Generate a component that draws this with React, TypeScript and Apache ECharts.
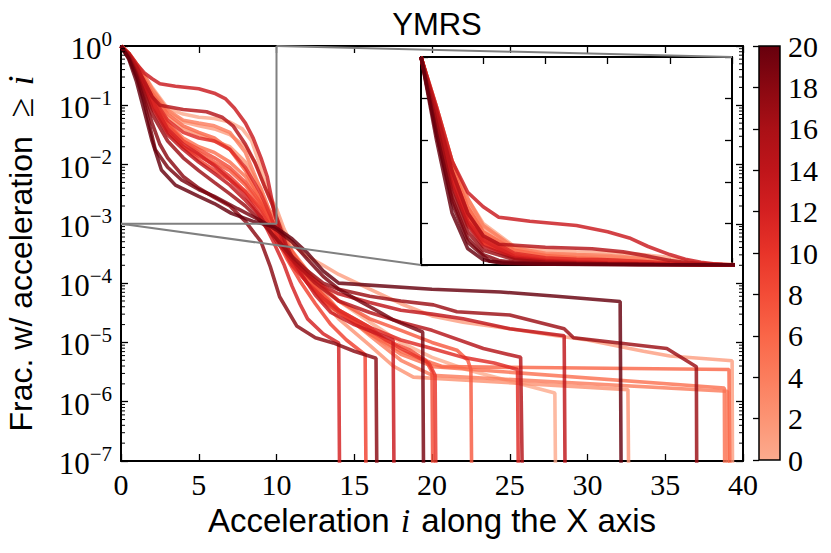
import { useEffect, useRef } from "react";
import * as echarts from "echarts";

// ---- data: each curve is [acceleration i, fraction >= i] ----
const curveA: [number, number][] = [[0,1],[0.5,7.1e-1],[1,4.2e-1],[1.5,2.1e-1],[2,1.2e-1],[3,4.0e-2],[4,2.2e-2],[5,1.5e-2],[6,9.5e-3],[7,5.6e-3],[8,3.0e-3],[9,1.3e-3],[9.8,5.0e-4],[10.5,2.0e-4],[11,8.9e-5],[11.5,4.5e-5],[12,2.5e-5],[13,1.4e-5],[14,9.8e-6],[14.1,1e-9]];
const curveB: [number, number][] = [[0,1],[0.5,7.2e-1],[1,4.2e-1],[1.5,2.2e-1],[2,1.1e-1],[3,3.8e-2],[4,2.0e-2],[5,1.2e-2],[6,8.0e-3],[7,5.5e-3],[8,3.5e-3],[9,1.8e-3],[10,5.6e-4],[10.7,2.5e-4],[11.5,1.1e-4],[12.5,4.5e-5],[13.5,2.0e-5],[14.5,1.1e-5],[15.7,6.2e-6],[15.8,1e-9]];
const curveC: [number, number][] = [[0,1],[0.5,6.3e-1],[1,3.2e-1],[1.5,1.3e-1],[2,5.0e-2],[2.5,2.2e-2],[3,1.3e-2],[4,6.3e-3],[5,4.0e-3],[6,2.8e-3],[7,2.0e-3],[8,1.1e-3],[9,5.0e-4],[9.6,1.9e-4],[10.2,5.9e-5],[11.3,1.9e-5],[12.5,1.2e-5],[13.65,9.8e-6],[15,7.1e-6],[16.4,5.4e-6],[16.5,1e-9]];
const curveD: [number, number][] = [[0,1],[0.5,7.6e-1],[1,5.0e-1],[1.5,3.5e-1],[2,2.8e-1],[2.5,2.3e-1],[3.5,2.1e-1],[5,1.9e-1],[6,1.6e-1],[6.7,1.3e-1],[7.3,8.9e-2],[8,5.0e-2],[8.5,2.8e-2],[9,1.3e-2],[9.4,6.3e-3],[9.9,1.4e-3],[10.4,5.0e-4],[11,2.5e-4],[11.7,1.3e-4],[12.5,6.3e-5],[13.5,3.2e-5],[15,2.0e-5],[16.5,1.4e-5],[17.5,1.1e-5],[17.6,1e-9]];
const curveE: [number, number][] = [[0,1],[0.5,6.3e-1],[1,3.0e-1],[1.5,1.1e-1],[2.2,1.8e-2],[3,9.0e-3],[3.9,5.5e-3],[5,3.8e-3],[6,2.9e-3],[7.5,1.8e-3],[8.8,1.2e-3],[10,7.9e-4],[11,5.0e-4],[12,2.5e-4],[13,1.3e-4],[14,7.9e-5],[15,5.6e-5],[16.4,3.5e-5],[17.5,2.4e-5],[19.4,1.5e-5],[19.5,1e-9]];
const curveF: [number, number][] = [[0,1],[0.5,7.1e-1],[1,4.0e-1],[1.5,2.1e-1],[2,1.1e-1],[3,4.5e-2],[4,2.5e-2],[5,1.8e-2],[6,1.3e-2],[7,8.9e-3],[8,5.0e-3],[9,2.2e-3],[10,7.9e-4],[11,2.8e-4],[12,1.3e-4],[13,6.3e-5],[14,3.5e-5],[16,1.8e-5],[17,1.1e-5],[18.6,7.4e-6],[19.6,5.0e-6],[20,3.2e-6],[20.1,1e-9]];
const curveG: [number, number][] = [[0,1],[0.5,7.1e-1],[1,4.0e-1],[1.5,2.0e-1],[2,1.0e-1],[3,3.5e-2],[4,2.0e-2],[5,1.4e-2],[6,1.0e-2],[7,6.3e-3],[8,3.5e-3],[9,1.6e-3],[10,6.3e-4],[11,2.2e-4],[12,1.0e-4],[13,5.0e-5],[14,3.2e-5],[16,1.6e-5],[18,7.9e-6],[19.8,4.5e-6],[20.2,2.8e-6],[20.3,1e-9]];
const curveH: [number, number][] = [[0,1],[0.5,7.2e-1],[1,4.4e-1],[1.5,2.4e-1],[2,1.3e-1],[3,5.0e-2],[4,2.5e-2],[5,1.6e-2],[6,1.1e-2],[7,7.9e-3],[8,4.5e-3],[9,2.0e-3],[10,8.9e-4],[10.7,4.5e-4],[11.5,2.2e-4],[12.5,1.1e-4],[14,5.0e-5],[16,2.5e-5],[18,1.6e-5],[20,1.0e-5],[21.6,7.4e-6],[22.3,5.0e-6],[22.5,3.5e-6],[22.6,1e-9]];
const curveI: [number, number][] = [[0,1],[0.5,7.2e-1],[1,4.5e-1],[1.5,2.5e-1],[2,1.4e-1],[3,5.6e-2],[4,3.5e-2],[5,2.8e-2],[6,2.5e-2],[7,1.8e-2],[8,8.9e-3],[9,3.2e-3],[9.6,1.4e-3],[10.2,5.0e-4],[11,2.0e-4],[12,1.0e-4],[13,5.6e-5],[14,3.5e-5],[16,1.8e-5],[18,1.1e-5],[20,7.9e-6],[22,5.6e-6],[24,4.5e-6],[25.5,3.5e-6],[25.6,1e-9]];
const curveJ: [number, number][] = [[0,1],[0.5,7.4e-1],[1,4.5e-1],[1.5,2.5e-1],[2,1.4e-1],[2.5,1.0e-1],[4,8.5e-2],[5.5,7.8e-2],[6.5,6.3e-2],[7.2,4.5e-2],[8,2.2e-2],[8.6,1.1e-2],[9.2,4.5e-3],[9.7,2.2e-3],[10.1,1.1e-3],[10.6,4.5e-4],[11.2,2.2e-4],[12.5,1.0e-4],[14,5.0e-5],[16,3.2e-5],[18,2.2e-5],[20,1.6e-5],[23.3,7.9e-6],[25.7,5.6e-6],[25.9,1e-9]];
const curveK: [number, number][] = [[0,1],[0.5,7.6e-1],[1,5.0e-1],[1.5,3.2e-1],[2,2.0e-1],[3,8.9e-2],[4,7.1e-2],[5,6.3e-2],[6,6.0e-2],[7,5.2e-2],[7.8,4.0e-2],[8.4,2.5e-2],[9,8.9e-3],[9.5,3.2e-3],[10,1.6e-3],[10.5,6.3e-4],[11,3.2e-4],[12,1.6e-4],[13,8.9e-5],[14,5.0e-5],[16,2.2e-5],[18,1.0e-5],[20,5.6e-6],[22.2,3.5e-6],[27.9,1.4e-6],[28,1e-9]];
const curveL: [number, number][] = [[0,1],[0.5,6.9e-1],[1,3.8e-1],[1.5,1.9e-1],[2,8.9e-2],[3,3.2e-2],[4,1.8e-2],[5,1.1e-2],[6,7.1e-3],[7,4.5e-3],[8,2.5e-3],[9,1.3e-3],[10,5.0e-4],[11,2.5e-4],[12,1.4e-4],[13,8.9e-5],[14,6.6e-5],[16,4.7e-5],[18,3.5e-5],[20,3.0e-5],[22,2.5e-5],[25,1.7e-5],[28.5,1.3e-5],[28.6,1e-9]];
const curveM: [number, number][] = [[0,1],[0.5,6.0e-1],[1,2.5e-1],[1.5,7.9e-2],[2,2.5e-2],[2.6,8.1e-3],[3.5,4.5e-3],[5,2.9e-3],[6,2.2e-3],[7.1,1.5e-3],[8.5,1.1e-3],[9.9,8.9e-4],[11,5.6e-4],[12,3.2e-4],[13,1.6e-4],[14,1.0e-4],[20,7.9e-5],[24.4,7.1e-5],[28,6.0e-5],[32.1,4.9e-5],[32.2,1e-9]];
const curveN: [number, number][] = [[0,1],[0.5,7.4e-1],[1,4.7e-1],[1.5,2.8e-1],[2,1.6e-1],[3,6.3e-2],[4,4.0e-2],[5,3.2e-2],[6,2.5e-2],[7,2.0e-2],[8,1.1e-2],[9,4.0e-3],[9.7,1.3e-3],[10.4,5.0e-4],[11,2.5e-4],[12,1.1e-4],[13,5.0e-5],[14,2.5e-5],[16,8.9e-6],[17.5,4.0e-6],[18.8,2.6e-6],[32.6,1.6e-6],[32.7,1e-9]];
const curveO: [number, number][] = [[0,1],[0.5,6.8e-1],[1,3.5e-1],[1.5,1.6e-1],[2,7.1e-2],[3,2.5e-2],[4,1.3e-2],[5,7.9e-3],[6,5.0e-3],[7,3.2e-3],[8,2.0e-3],[9,1.1e-3],[10,5.6e-4],[11,2.8e-4],[12,1.6e-4],[13,1.0e-4],[14,7.9e-5],[16,6.0e-5],[18,5.0e-5],[20.1,4.3e-5],[21.6,3.3e-5],[25,2.9e-5],[28.5,1.7e-5],[29.1,1.2e-5],[35.1,7.9e-6],[37,3.9e-6],[37.05,1e-9]];
const curveP: [number, number][] = [[0,1],[0.5,7.4e-1],[1,4.5e-1],[1.5,2.5e-1],[2,1.3e-1],[3,5.0e-2],[4,2.8e-2],[5,2.0e-2],[6,1.6e-2],[7,1.1e-2],[8,6.3e-3],[9,2.5e-3],[9.8,1.0e-3],[10.5,4.5e-4],[11,2.8e-4],[12,1.3e-4],[13,6.3e-5],[14,3.5e-5],[16,1.4e-5],[18,6.3e-6],[20.1,3.9e-6],[38.8,1.7e-6],[38.85,1e-9]];
const curveQ: [number, number][] = [[0,1],[0.5,7.6e-1],[1,5.0e-1],[1.5,3.2e-1],[2,1.9e-1],[3,8.3e-2],[4,5.6e-2],[5,5.0e-2],[6,4.5e-2],[7,3.5e-2],[8,1.6e-2],[8.8,5.0e-3],[9.5,1.8e-3],[10.1,1.1e-3],[11,3.5e-4],[12,1.6e-4],[13,7.1e-5],[14,3.5e-5],[16,1.3e-5],[18,5.0e-6],[20,2.8e-6],[39,1.5e-6],[39.05,1e-9]];
const curveR: [number, number][] = [[0,1],[0.5,7.4e-1],[1,4.7e-1],[1.5,2.8e-1],[2,1.6e-1],[3,7.1e-2],[4,4.5e-2],[5,3.5e-2],[6,2.8e-2],[7,1.8e-2],[8,7.9e-3],[9,2.5e-3],[9.7,1.0e-3],[10.4,4.0e-4],[11,2.2e-4],[12,1.1e-4],[13,5.6e-5],[14,3.2e-5],[16,1.4e-5],[18,7.1e-6],[20,4.5e-6],[20.7,3.9e-6],[39.1,3.5e-6],[39.2,1e-9]];
const curveS: [number, number][] = [[0,1],[0.5,7.4e-1],[1,4.8e-1],[1.5,3.0e-1],[2,1.8e-1],[3,7.9e-2],[4,5.2e-2],[5,4.5e-2],[6,4.0e-2],[7,3.2e-2],[8,2.0e-2],[8.7,1.0e-2],[9.3,4.0e-3],[10,1.8e-3],[10.5,8.0e-4],[11,4.5e-4],[12,2.8e-4],[13,2.0e-4],[14,1.4e-4],[16,7.9e-5],[18,4.5e-5],[20,2.8e-5],[22,2.2e-5],[25,1.7e-5],[28,1.3e-5],[30,1.1e-5],[33.6,7.1e-6],[35.3,5.9e-6],[39.3,4.9e-6],[39.35,1e-9]];

const curves = [curveK, curveS, curveN, curveQ, curveP, curveR, curveH, curveF, curveB, curveG, curveI, curveA, curveD, curveL, curveJ, curveO, curveC, curveE, curveM];
const ymrsScores = [0, 1, 2, 4, 5, 6, 7, 8, 9, 10, 11, 12, 13, 14, 15, 17, 18, 19, 20];

// zoom box marked on the main plot (x 0..10, y 1e-3..1)
const zoomBox: [number, number][] = [[0, 1e-3], [10, 1e-3], [10, 1]];

const xTicksMain = [0, 5, 10, 15, 20, 25, 30, 35, 40];
const colorbarTicks = [0, 2, 4, 6, 8, 10, 12, 14, 16, 18, 20];
const minorMantissas = [2, 3, 4, 5, 6, 7, 8, 9];
const decades = [-7, -6, -5, -4, -3, -2, -1];

// ---- styling helpers ----
const REDS = ["#fff5f0", "#fee0d2", "#fcbba1", "#fc9272", "#fb6a4a", "#ef3b2c", "#cb181d", "#a50f15", "#67000d"];
function hexToRgb(h: string) {
  return [parseInt(h.slice(1, 3), 16), parseInt(h.slice(3, 5), 16), parseInt(h.slice(5, 7), 16)];
}
function reds(t: number) {
  const p = Math.max(0, Math.min(1, t)) * 8;
  const i = Math.min(7, Math.floor(p));
  const f = p - i;
  const a = hexToRgb(REDS[i]);
  const b = hexToRgb(REDS[i + 1]);
  const c = a.map((v, k) => Math.round(v + (b[k] - v) * f));
  return `rgb(${c.join(",")})`;
}
const scoreColor = (s: number) => reds(0.3 + (0.7 * s) / 20);

const SERIF = "Liberation Serif";
const SANS = "Liberation Sans";

export default function App() {
  const ref = useRef<HTMLDivElement>(null);

  useEffect(() => {
    if (!ref.current) return;
    const chart = echarts.init(ref.current, undefined, { renderer: "svg" });

    const minorTicks: [number, number][] = [];
    decades.forEach((d) => minorMantissas.forEach((m) => minorTicks.push([0, m * Math.pow(10, d)])));

    const lineStyleFor = (i: number) => ({ width: 3.6, color: scoreColor(ymrsScores[i]), opacity: 0.82 });

    const mk = (d: [number, number][], i: number, xi: number, yi: number) => ({
      type: "line",
      xAxisIndex: xi,
      yAxisIndex: yi,
      data: d,
      symbol: "none",
      showSymbol: false,
      silent: true,
      lineStyle: lineStyleFor(i),
      z: 3,
    });
    const mainSeries = curves.map((d, i) => mk(d, i, 0, 0));
    const insetSeries = curves.map((d, i) => mk(d, i, 2, 2));

    const supLabel = (v: number) => {
      const e = Math.round(Math.log10(v));
      return `{b|10}{s|${e === 0 ? "0" : "\u2212" + -e}}`;
    };
    const supRich = {
      b: { fontSize: 31, fontFamily: SERIF, color: "#000", verticalAlign: "bottom", lineHeight: 36 },
      s: { fontSize: 21, fontFamily: SERIF, color: "#000", verticalAlign: "top", lineHeight: 36 },
    };

    const spine = { show: true, onZero: false, lineStyle: { color: "#000", width: 2 } };
    const tickIn = (len: number) => ({ show: true, inside: true, length: len, lineStyle: { color: "#000", width: 1.3 } });

    const stops = colorbarTicks.map((s) => ({ offset: s / 20, color: scoreColor(s) }));

    const option: any = {
      animation: false,
      backgroundColor: "#fff",
      title: {
        text: "YMRS",
        left: 432,
        top: 4,
        textAlign: "center",
        textStyle: { fontFamily: SANS, fontSize: 31, fontWeight: "normal", color: "#000" },
      },
      grid: [
        { left: 121, top: 46, width: 622, height: 415, containLabel: false, outerBoundsMode: "none" },
        { left: 421, top: 57, width: 311, height: 208, containLabel: false, outerBoundsMode: "none" },
        { left: 759, top: 46, width: 21, height: 414, containLabel: false, outerBoundsMode: "none" },
      ],
      xAxis: [
        {
          gridIndex: 0, type: "value", min: 0, max: 40, interval: 5, position: "bottom",
          axisLine: spine, axisTick: tickIn(7), splitLine: { show: false },
          axisLabel: { fontFamily: SERIF, fontSize: 30, color: "#000", margin: 8,
            formatter: (v: number) => (xTicksMain.includes(v) ? String(v) : "") },
          name: "Acceleration {i|i} along the X axis",
          nameLocation: "middle",
          nameGap: 38,
          nameTextStyle: {
            fontFamily: SANS, fontSize: 33, color: "#000", verticalAlign: "top",
            rich: { i: { fontFamily: SERIF, fontStyle: "italic", fontSize: 34, color: "#000", padding: [0, 2, 0, 2] } },
          },
        },
        {
          gridIndex: 0, type: "value", min: 0, max: 40, interval: 5, position: "top",
          axisLine: spine, axisTick: tickIn(7), axisLabel: { show: false }, splitLine: { show: false },
        },
        {
          gridIndex: 1, type: "value", min: 0, max: 10, interval: 2, position: "bottom",
          axisLine: spine, axisTick: tickIn(7), axisLabel: { show: false }, splitLine: { show: false },
        },
        {
          gridIndex: 1, type: "value", min: 0, max: 10, interval: 2, position: "top",
          axisLine: spine, axisTick: tickIn(7), axisLabel: { show: false }, splitLine: { show: false },
        },
        { gridIndex: 2, type: "value", min: 0, max: 1, show: false },
      ],
      yAxis: [
        {
          gridIndex: 0, type: "log", logBase: 10, min: 1e-7, max: 1, splitNumber: 7, position: "left",
          axisLine: spine, axisTick: tickIn(7), splitLine: { show: false },
          axisLabel: { formatter: supLabel, rich: supRich, margin: 9 },
          name: "Frac. w/ acceleration {m|\u2265}{i|i}",
          nameLocation: "middle",
          nameGap: 82,
          nameTextStyle: {
            fontFamily: SANS, fontSize: 32, color: "#000",
            rich: {
              m: { fontFamily: SERIF, fontSize: 36, color: "#000", padding: [0, 12, 0, 10] },
              i: { fontFamily: SERIF, fontStyle: "italic", fontSize: 36, color: "#000" },
            },
          },
        },
        {
          gridIndex: 0, type: "log", logBase: 10, min: 1e-7, max: 1, splitNumber: 7, position: "right",
          axisLine: spine, axisTick: tickIn(7), axisLabel: { show: false }, splitLine: { show: false },
        },
        {
          gridIndex: 1, type: "value", min: 0, max: 1, interval: 0.2, position: "left",
          axisLine: spine, axisTick: tickIn(7), axisLabel: { show: false }, splitLine: { show: false },
        },
        {
          gridIndex: 1, type: "value", min: 0, max: 1, interval: 0.2, position: "right",
          axisLine: spine, axisTick: tickIn(7), axisLabel: { show: false }, splitLine: { show: false },
        },
        {
          gridIndex: 2, type: "value", min: 0, max: 20, interval: 2, position: "right",
          axisLine: { show: false }, axisTick: tickIn(6), splitLine: { show: false },
          axisLabel: { fontFamily: SERIF, fontSize: 30, color: "#000", margin: 8 },
        },
      ],
      series: [
        ...mainSeries,
        {
          type: "line", xAxisIndex: 0, yAxisIndex: 0, data: zoomBox, symbol: "none", silent: true,
          lineStyle: { color: "#808080", width: 2 }, z: 4,
        },
        {
          type: "custom", xAxisIndex: 0, yAxisIndex: 0, data: minorTicks, silent: true, clip: false, z: 6,
          encode: { x: 0, y: 1 },
          renderItem: (_p: any, api: any) => {
            const v = api.value(1);
            const l = api.coord([0, v]);
            const r = api.coord([40, v]);
            return {
              type: "group",
              children: [
                { type: "line", shape: { x1: l[0], y1: l[1], x2: l[0] + 4, y2: l[1] }, style: { stroke: "#000", lineWidth: 1 } },
                { type: "line", shape: { x1: r[0] - 4, y1: r[1], x2: r[0], y2: r[1] }, style: { stroke: "#000", lineWidth: 1 } },
              ],
            };
          },
        },
        ...insetSeries,
        {
          type: "custom", xAxisIndex: 4, yAxisIndex: 4, data: [[0, 0]], silent: true, clip: false, z: 1,
          renderItem: (_p: any, api: any) => {
            const tl = api.coord([0, 20]);
            const br = api.coord([1, 0]);
            return {
              type: "rect",
              shape: { x: tl[0], y: tl[1], width: br[0] - tl[0], height: br[1] - tl[1] },
              style: {
                fill: new echarts.graphic.LinearGradient(0, 1, 0, 0, stops),
                stroke: "#000",
                lineWidth: 1.5,
              },
            };
          },
        },
      ],
    };

    chart.setOption(option);

    const a1 = chart.convertToPixel({ xAxisIndex: 0, yAxisIndex: 0 } as any, [10, 1]) as number[];
    const b1 = chart.convertToPixel({ xAxisIndex: 2, yAxisIndex: 2 } as any, [10, 1]) as number[];
    const a2 = chart.convertToPixel({ xAxisIndex: 0, yAxisIndex: 0 } as any, [0, 1e-3]) as number[];
    const b2 = chart.convertToPixel({ xAxisIndex: 2, yAxisIndex: 2 } as any, [0, 0]) as number[];
    chart.setOption({
      graphic: [
        { type: "line", z: 5, shape: { x1: a1[0], y1: a1[1], x2: b1[0], y2: b1[1] }, style: { stroke: "#808080", lineWidth: 2 } },
        { type: "line", z: 5, shape: { x1: a2[0], y1: a2[1], x2: b2[0], y2: b2[1] }, style: { stroke: "#808080", lineWidth: 2 } },
      ],
    });

    return () => chart.dispose();
  }, []);

  return <div ref={ref} style={{ position: "absolute", left: 0, top: 0, width: 831, height: 553 }} />;
}
